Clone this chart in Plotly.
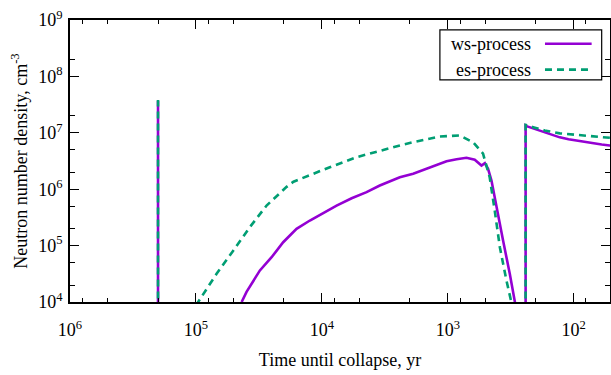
import plotly.graph_objects as go

# ---- data ----
# ws-process: spike, main curve, spike + decay (None separates segments)
ws_x = [2.0e5, 2.0e5, None,
        43350, 39630, 31050, 25060, 20280, 15890, 12450, 9772, 7640, 5800, 4416, 3467, 2404, 1884,
        1380, 1023, 851, 711, 611, 564, 540, 508, 479, 450, 411, 364, 322, 294, 288, None,
        241, 241, 234, 210, 186, 165, 145, 129, 110, 89.5, 70, 60, 51.8, 50]
ws_y = [1e3, 3.7e7, None,
        1e4, 1.514e4, 3.63e4, 6.22e4, 1.148e5, 1.986e5, 2.786e5, 3.8e5, 5.129e5, 6.9e5, 8.85e5, 1.164e6, 1.633e6, 1.875e6,
        2.45e6, 3.14e6, 3.39e6, 3.61e6, 3.32e6, 2.89e6, 2.63e6, 2.89e6, 2.3e6, 1.43e6, 4.79e5, 1.23e5, 3.16e4, 1e4, 8.0e3, None,
        1e3, 1.35e7, 1.3e7, 1.2e7, 1.1e7, 1.02e7, 9.2e6, 8.3e6, 7.7e6, 7.1e6, 6.5e6, 6.2e6, 5.96e6, 5.9e6]

# es-process
es_x = [2.0e5, 2.0e5, None,
        100000, 95940, 68550, 50580, 37240, 27480, 22900, 19050, 16800, 14060, 11000, 8650, 5309, 3467, 2404, 1884,
        1156, 804, 630, 525, 465, 424, 386, 342, 313, 302, None,
        241, 241, 210, 170, 129, 100, 79.4, 62, 51.8, 50]
es_y = [1e3, 3.8e7, None,
        8.7e3, 1e4, 3.16e4, 8.13e4, 2.138e5, 5.129e5, 7.6e5, 1.10e6, 1.36e6, 1.6e6, 2.0e6, 2.455e6, 3.69e6, 4.85e6, 5.96e6, 6.81e6,
        8.59e6, 8.95e6, 6.81e6, 4.27e6, 1.63e6, 4.17e5, 9.33e4, 2.4e4, 1e4, 7e3, None,
        1e3, 1.38e7, 1.26e7, 1.1e7, 9.77e6, 9.3e6, 8.95e6, 8.5e6, 8.13e6, 8.1e6]

x_ticks = [1e6, 1e5, 1e4, 1e3, 1e2]
x_ticktext = ["10<sup>6</sup>", "10<sup>5</sup>", "10<sup>4</sup>", "10<sup>3</sup>", "10<sup>2</sup>"]
x_minor = [8e5, 5e5, 2e5, 8e4, 5e4, 2e4, 8e3, 5e3, 2e3, 8e2, 5e2, 2e2, 80, 50]
y_ticks = [1e4, 1e5, 1e6, 1e7, 1e8, 1e9]
y_ticktext = ["10<sup>4</sup>", "10<sup>5</sup>", "10<sup>6</sup>", "10<sup>7</sup>", "10<sup>8</sup>", "10<sup>9</sup>"]
y_minor = [2e8, 2e7, 5e6, 2e6, 5e5, 2e5, 5e4, 2e4]

series_names = ["ws-process", "es-process"]
PURPLE = "#9400D3"
GREEN = "#009E73"
FONT = '"Liberation Serif", "Times New Roman", Times, "DejaVu Serif", serif'

fig = go.Figure()
fig.add_trace(go.Scatter(x=ws_x, y=ws_y, mode="lines", name=series_names[0],
                         line=dict(color=PURPLE, width=2.6), connectgaps=False, showlegend=False))
fig.add_trace(go.Scatter(x=es_x, y=es_y, mode="lines", name=series_names[1],
                         line=dict(color=GREEN, width=2.6, dash="7px,5px"), connectgaps=False, showlegend=False))

axis_common = dict(
    type="log", showline=True, linecolor="black", linewidth=1.5, mirror="ticks",
    ticks="inside", ticklen=9, tickwidth=1.2, tickcolor="black",
    showgrid=False, zeroline=False,
    tickfont=dict(family=FONT, size=18, color="black"),
)

fig.update_xaxes(**axis_common, range=[6, 1.712], tickmode="array", tickvals=x_ticks, ticktext=x_ticktext,
                 minor=dict(tickmode="array", tickvals=x_minor, ticks="inside", ticklen=4, tickwidth=1.2, tickcolor="black"),
                 ticklabelstandoff=11,
                 title=dict(text="Time until collapse, yr", font=dict(family=FONT, size=18, color="black"), standoff=14))
fig.update_yaxes(**axis_common, range=[4, 9], tickmode="array", tickvals=y_ticks, ticktext=y_ticktext,
                 minor=dict(tickmode="array", tickvals=y_minor, ticks="inside", ticklen=5, tickwidth=1.2, tickcolor="black"),
                 ticklabelstandoff=2,
                 title=dict(text="Neutron number density, cm<sup>-3</sup>", font=dict(family=FONT, size=18, color="black"), standoff=6))

# legend box (gnuplot style: text on the left, line sample on the right)
fig.add_shape(type="rect", xref="paper", yref="paper", x0=0.685, x1=0.9846, y0=0.788, y1=0.965,
              line=dict(color="black", width=1.2), fillcolor="white", layer="above")
leg_y = [0.916, 0.824]
leg_col = [PURPLE, GREEN]
leg_dash = ["solid", "7px,5px"]
for name, yy, c, d in zip(series_names, leg_y, leg_col, leg_dash):
    fig.add_annotation(xref="paper", yref="paper", x=0.858, y=yy, text=name, showarrow=False,
                       xanchor="right", yanchor="middle", font=dict(family=FONT, size=18, color="black"))
    fig.add_shape(type="line", xref="paper", yref="paper", x0=0.8796, x1=0.966, y0=yy, y1=yy,
                  line=dict(color=c, width=2.6, dash=d), layer="above")

fig.update_layout(
    width=611, height=375,
    margin=dict(l=70, r=1, t=20, b=73, autoexpand=False),
    paper_bgcolor="white", plot_bgcolor="white",
    font=dict(family=FONT, size=18, color="black"),
    showlegend=False,
)

fig.write_html("out.html", config={"displayModeBar": False},
               post_script="document.body.style.margin='0';document.body.style.overflow='hidden';")
